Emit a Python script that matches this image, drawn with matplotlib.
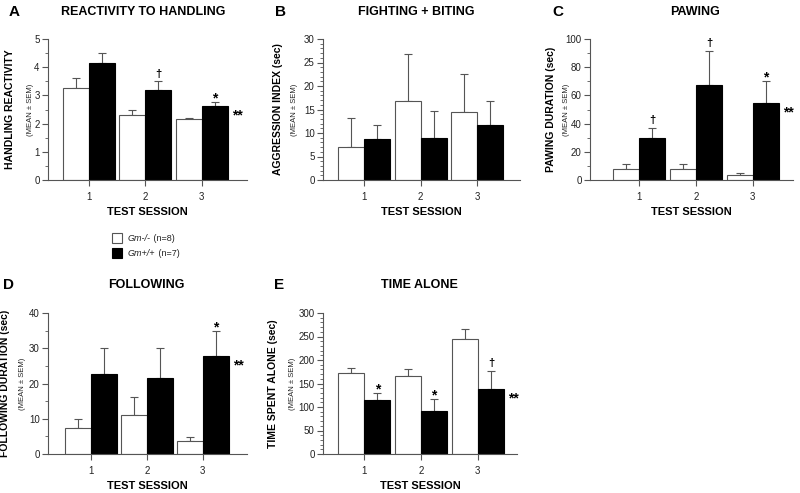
import matplotlib
matplotlib.use("Agg")
import matplotlib.pyplot as plt
from matplotlib.ticker import MultipleLocator
from matplotlib.patches import Rectangle
import numpy as np

plt.rcParams['font.family'] = ['Liberation Sans', 'DejaVu Sans']

sessions = [1, 2, 3]

# Panel A: reactivity to handling
a_ko = [3.25, 2.32, 2.17]
a_ko_err = [0.38, 0.15, 0.04]
a_wt = [4.15, 3.20, 2.62]
a_wt_err = [0.35, 0.30, 0.15]

# Panel B: fighting + biting
b_ko = [7.1, 16.8, 14.4]
b_ko_err = [6.0, 10.0, 8.1]
b_wt = [8.7, 9.0, 11.8]
b_wt_err = [3.1, 5.6, 5.0]

# Panel C: pawing
c_ko = [7.5, 8.0, 3.2]
c_ko_err = [4.0, 3.5, 2.0]
c_wt = [29.5, 67.5, 54.5]
c_wt_err = [7.5, 24.0, 16.0]

# Panel D: following
d_ko = [7.5, 11.0, 3.7]
d_ko_err = [2.3, 5.3, 1.1]
d_wt = [22.8, 21.6, 27.9]
d_wt_err = [7.2, 8.4, 7.1]

# Panel E: time alone
e_ko = [173, 167, 245]
e_ko_err = [11, 13, 22]
e_wt = [115, 91, 139]
e_wt_err = [15, 25, 38]

W, H = 800, 493
fig = plt.figure(figsize=(W / 100, H / 100), dpi=100)

AX_COLOR = '#555555'


def px_axes(x0, x1, ytop, ybot):
    return fig.add_axes([x0 / W, 1 - ybot / H, (x1 - x0) / W, (ybot - ytop) / H])


def panel(box, xlim, ymax, major, minor, ko, ko_err, wt, wt_err,
          letter, title, ylabel, marks, dstar, head, lab_off):
    ax = px_axes(*box)
    wpx = box[1] - box[0]
    x = np.array(sessions, dtype=float)
    bw = 0.46
    ax.bar(x - bw / 2, ko, bw, color='white', edgecolor=AX_COLOR, linewidth=0.8, zorder=2)
    ax.bar(x + bw / 2, wt, bw, color='black', edgecolor='black', linewidth=0.8, zorder=2)
    ax.errorbar(x - bw / 2, ko, yerr=[np.zeros(3), ko_err], fmt='none',
                ecolor=AX_COLOR, elinewidth=0.8, capsize=3, capthick=0.8, zorder=1)
    ax.errorbar(x + bw / 2, wt, yerr=[np.zeros(3), wt_err], fmt='none',
                ecolor=AX_COLOR, elinewidth=0.8, capsize=3, capthick=0.8, zorder=1)
    ax.set_xlim(*xlim)
    ax.set_ylim(0, ymax)
    ax.yaxis.set_major_locator(MultipleLocator(major))
    ax.yaxis.set_minor_locator(MultipleLocator(minor))
    ax.set_xticks(sessions)
    ax.set_xticklabels([str(s) for s in sessions])
    for s in ['top', 'right']:
        ax.spines[s].set_visible(False)
    for s in ['left', 'bottom']:
        ax.spines[s].set_color(AX_COLOR)
        ax.spines[s].set_linewidth(0.8)
    ax.tick_params(axis='both', which='major', length=4, width=0.8, color=AX_COLOR,
                   labelsize=7, labelcolor='#222222', pad=2)
    ax.tick_params(axis='y', which='minor', length=2, width=0.6, color=AX_COLOR)
    ax.tick_params(axis='x', which='major', pad=5)
    # annotations
    for i, m in enumerate(marks):
        if m:
            top = wt[i] + wt_err[i]
            if m == '*':
                ax.annotate(m, (x[i] + bw / 2, top), xytext=(0, -2.5), textcoords='offset points',
                            ha='center', va='bottom', fontsize=10, fontweight='bold')
            else:
                ax.annotate(m, (x[i] + bw / 2, top), xytext=(0, 2), textcoords='offset points',
                            ha='center', va='bottom', fontsize=8, fontweight='bold')
    if dstar:
        ax.annotate('**', (x[2] + bw, wt[2]), xytext=(3, -7), textcoords='offset points',
                    ha='left', va='center', fontsize=10, fontweight='bold')
    # heading and letter
    lx, tx, hy = head
    fig.text(tx / W, 1 - hy / H, title, ha='center', va='center', fontsize=9, fontweight='bold')
    fig.text(lx / W, 1 - hy / H, letter, ha='center', va='center', fontsize=11, fontweight='bold')
    ax.set_ylabel(ylabel, fontsize=7.5, fontweight='bold')
    ax.yaxis.set_label_coords(-lab_off[0] / wpx, 0.5)
    ax.text(-lab_off[1] / wpx, 0.5, '(MEAN \u00b1 SEM)', transform=ax.transAxes,
            rotation=90, ha='center', va='center', fontsize=5.5, color='#222222')
    ax.set_xlabel('TEST SESSION', fontsize=8, fontweight='bold', labelpad=3)
    return ax


panel((48, 247, 39, 180), (0.274, 3.80), 5, 1, 0.5, a_ko, a_ko_err, a_wt, a_wt_err,
      'A', 'REACTIVITY TO HANDLING', 'HANDLING REACTIVITY', [None, '\u2020', '*'], True,
      (14, 143, 12), (33, 17))
panel((323, 520, 39, 180), (0.274, 3.76), 30, 5, 1, b_ko, b_ko_err, b_wt, b_wt_err,
      'B', 'FIGHTING + BITING', 'AGGRESSION INDEX (sec)', [None, None, None], False,
      (281, 416, 12), (40, 28))
panel((590, 793, 39, 180), (0.13, 3.71), 100, 20, 10, c_ko, c_ko_err, c_wt, c_wt_err,
      'C', 'PAWING', 'PAWING DURATION (sec)', ['\u2020', '\u2020', '*'], True,
      (558, 695, 12), (34, 24))
panel((48, 247, 313, 454), (0.23, 3.79), 40, 10, 5, d_ko, d_ko_err, d_wt, d_wt_err,
      'D', 'FOLLOWING', 'FOLLOWING DURATION (sec)', [None, None, '*'], True,
      (9, 146, 285), (38, 26))
panel((323, 517, 313, 454), (0.274, 3.69), 300, 50, 10, e_ko, e_ko_err, e_wt, e_wt_err,
      'E', 'TIME ALONE', 'TIME SPENT ALONE (sec)', ['*', '*', '\u2020'], True,
      (279, 419, 285), (45, 30))

# legend
legend_labels = [('white', AX_COLOR, 'Gm-/-', ' (n=8)'), ('black', 'black', 'Gm+/+', ' (n=7)')]
for i, (fc, ec, g, n) in enumerate(legend_labels):
    yc = 238 + i * 15
    fig.patches.append(Rectangle((112 / W, 1 - (yc + 5) / H), 10 / W, 10 / H,
                                 transform=fig.transFigure, facecolor=fc, edgecolor=ec,
                                 linewidth=0.8))
    t = fig.text(128 / W, 1 - yc / H, g, ha='left', va='center', fontsize=6.5,
                 fontstyle='italic', color='#222222')
    fig.canvas.draw()
    bb = t.get_window_extent()
    fig.text(bb.x1 / W, 1 - yc / H, n, ha='left', va='center', fontsize=6.5, color='#222222')

fig.savefig('out.png', dpi=100)
